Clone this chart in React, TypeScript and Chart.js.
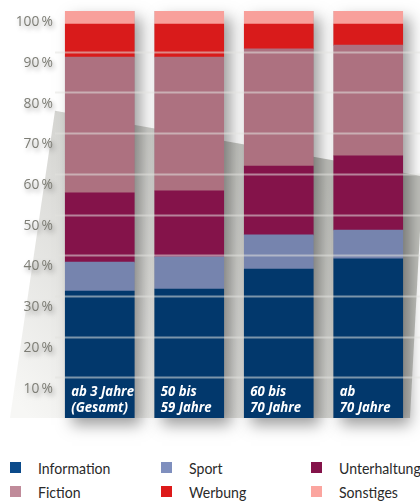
import React, { useEffect, useRef } from 'react';
import { Chart, registerables } from 'chart.js';

Chart.register(...registerables);

// ---- data ----
const categories: string[][] = [
  ['ab 3 Jahre', '(Gesamt)'],
  ['50 bis', '59 Jahre'],
  ['60 bis', '70 Jahre'],
  ['ab', '70 Jahre'],
];
const seriesNames = ['Information', 'Sport', 'Unterhaltung', 'Fiction', 'Werbung', 'Sonstiges'];
const information = [31.2, 31.7, 36.6, 39.1];
const sport = [7.1, 7.9, 8.4, 7.1];
const unterhaltung = [17.0, 16.2, 16.9, 18.2];
const fiction = [33.4, 32.9, 28.8, 27.2];
const werbung = [8.1, 8.1, 6.1, 5.2];
const sonstiges = [3.2, 3.2, 3.2, 3.2];
const yTicks = [10, 20, 30, 40, 50, 60, 70, 80, 90, 100];

const seriesValues = [information, sport, unterhaltung, fiction, werbung, sonstiges];
const seriesColors = ['#02386c', '#7684ae', '#84134a', '#ad7180', '#d91b1b', '#f8a09b'];
const legendColors = ['#0b4a8a', '#7f8fbe', '#84134a', '#c08b9a', '#dd1a1a', '#fba59f'];

const FONT = "'Open Sans', sans-serif";
const LEGEND_FONT = "Lato, 'Open Sans', sans-serif";

const decorPlugin = {
  id: 'decor',
  beforeDatasetsDraw(chart: any) {
    const { ctx, chartArea } = chart;
    const y = chart.scales.y;
    const W = chart.width;
    const bottom = y.getPixelForValue(0);
    ctx.save();
    // floor / backdrop
    const g = ctx.createLinearGradient(320, y.getPixelForValue(60), 30, bottom);
    g.addColorStop(0, '#bfc0bb');
    g.addColorStop(0.55, '#dcdcd9');
    g.addColorStop(1, '#f7f7f5');
    ctx.fillStyle = g;
    ctx.beginPath();
    ctx.moveTo(chartArea.left, y.getPixelForValue(75.5));
    ctx.lineTo(W, y.getPixelForValue(59.5));
    ctx.lineTo(W, y.getPixelForValue(46));
    ctx.lineTo(W - 10, bottom);
    ctx.lineTo(chartArea.left - 45, bottom);
    ctx.closePath();
    ctx.fill();
    // bar shadows
    const first = chart.getDatasetMeta(0).data;
    const last = chart.getDatasetMeta(chart.data.datasets.length - 1).data;
    ctx.shadowColor = 'rgba(0,0,0,0.38)';
    ctx.shadowBlur = 14;
    ctx.shadowOffsetX = 7;
    ctx.shadowOffsetY = 7;
    ctx.fillStyle = '#777';
    first.forEach((el: any, i: number) => {
      const topEl = last[i];
      const x0 = el.x - el.width / 2;
      ctx.fillRect(x0, topEl.y, el.width, el.base - topEl.y);
    });
    ctx.restore();
  },
  afterDatasetsDraw(chart: any) {
    const { ctx, chartArea } = chart;
    const y = chart.scales.y;
    ctx.save();
    // grid lines over the bars
    ctx.strokeStyle = 'rgba(226,226,222,0.55)';
    ctx.lineWidth = 2;
    yTicks.forEach((v) => {
      if (v >= 100) return;
      const py = Math.round(y.getPixelForValue(v)) + 0.5;
      ctx.beginPath();
      ctx.moveTo(chartArea.left, py);
      ctx.lineTo(chart.width, py);
      ctx.stroke();
    });
    // category labels inside the bars
    const first = chart.getDatasetMeta(0).data;
    ctx.fillStyle = '#ffffff';
    ctx.font = `italic bold 14px ${FONT}`;
    ctx.textAlign = 'left';
    ctx.textBaseline = 'middle';
    first.forEach((el: any, i: number) => {
      const x0 = el.x - el.width / 2 + 6;
      const lines = categories[i];
      ctx.save();
      ctx.translate(x0, el.base);
      ctx.scale(0.94, 1);
      ctx.fillText(lines[0], 0, -26);
      ctx.fillText(lines[1], 0, -10);
      ctx.restore();
    });
    // y tick labels with soft shadow
    ctx.font = `15px ${FONT}`;
    ctx.textAlign = 'right';
    ctx.fillStyle = '#7d7d75';
    ctx.shadowColor = 'rgba(0,0,0,0.35)';
    ctx.shadowBlur = 5;
    ctx.shadowOffsetX = 2;
    ctx.shadowOffsetY = 3;
    yTicks.forEach((v) => {
      ctx.save();
      ctx.translate(chartArea.left - 2, y.getPixelForValue(v) + 11);
      ctx.scale(0.92, 1);
      ctx.fillText(`${v}\u2009%`, 0, 0);
      ctx.restore();
    });
    ctx.restore();
  },
};

export default function App() {
  const ref = useRef<HTMLCanvasElement | null>(null);
  useEffect(() => {
    if (!ref.current) return;
    const chart = new Chart(ref.current, {
      type: 'bar',
      data: {
        labels: categories.map((c) => c.join(' ')),
        datasets: seriesNames.map((name, i) => ({
          label: name,
          data: seriesValues[i],
          backgroundColor: seriesColors[i],
          borderWidth: 0,
          barThickness: 69,
        })),
      },
      options: {
        animation: false,
        responsive: false,
        devicePixelRatio: 1,
        layout: { padding: { left: 55, right: 7, top: 11, bottom: 32 } },
        scales: {
          x: { stacked: true, display: false, offset: true },
          y: { stacked: true, display: false, min: 0, max: 100 },
        },
        plugins: { legend: { display: false }, tooltip: { enabled: false } },
      },
      plugins: [decorPlugin],
    });
    return () => chart.destroy();
  }, []);

  return (
    <div style={{ position: 'absolute', left: 0, top: 0, width: 420, height: 502, background: '#fff', overflow: 'hidden' }}>
      <canvas ref={ref} width={420} height={450} style={{ display: 'block', width: 420, height: 450 }} />
      {seriesNames.map((name, i) => {
        const col = i % 3;
        const row = Math.floor(i / 3);
        return (
          <div
            key={name}
            style={{
              position: 'absolute',
              left: 10 + col * 150.5,
              top: 455 + row * 24,
              height: 24,
              display: 'flex',
              alignItems: 'center',
              fontFamily: LEGEND_FONT,
              fontSize: 16,
              color: '#2a2a2a',
              whiteSpace: 'nowrap',
            }}
          >
            <span style={{ display: 'inline-block', width: 11, height: 11, background: legendColors[i], marginRight: 17 }} />
            <span style={{ display: 'inline-block', transform: 'scaleX(0.88)', transformOrigin: 'left center' }}>{name}</span>
          </div>
        );
      })}
    </div>
  );
}
